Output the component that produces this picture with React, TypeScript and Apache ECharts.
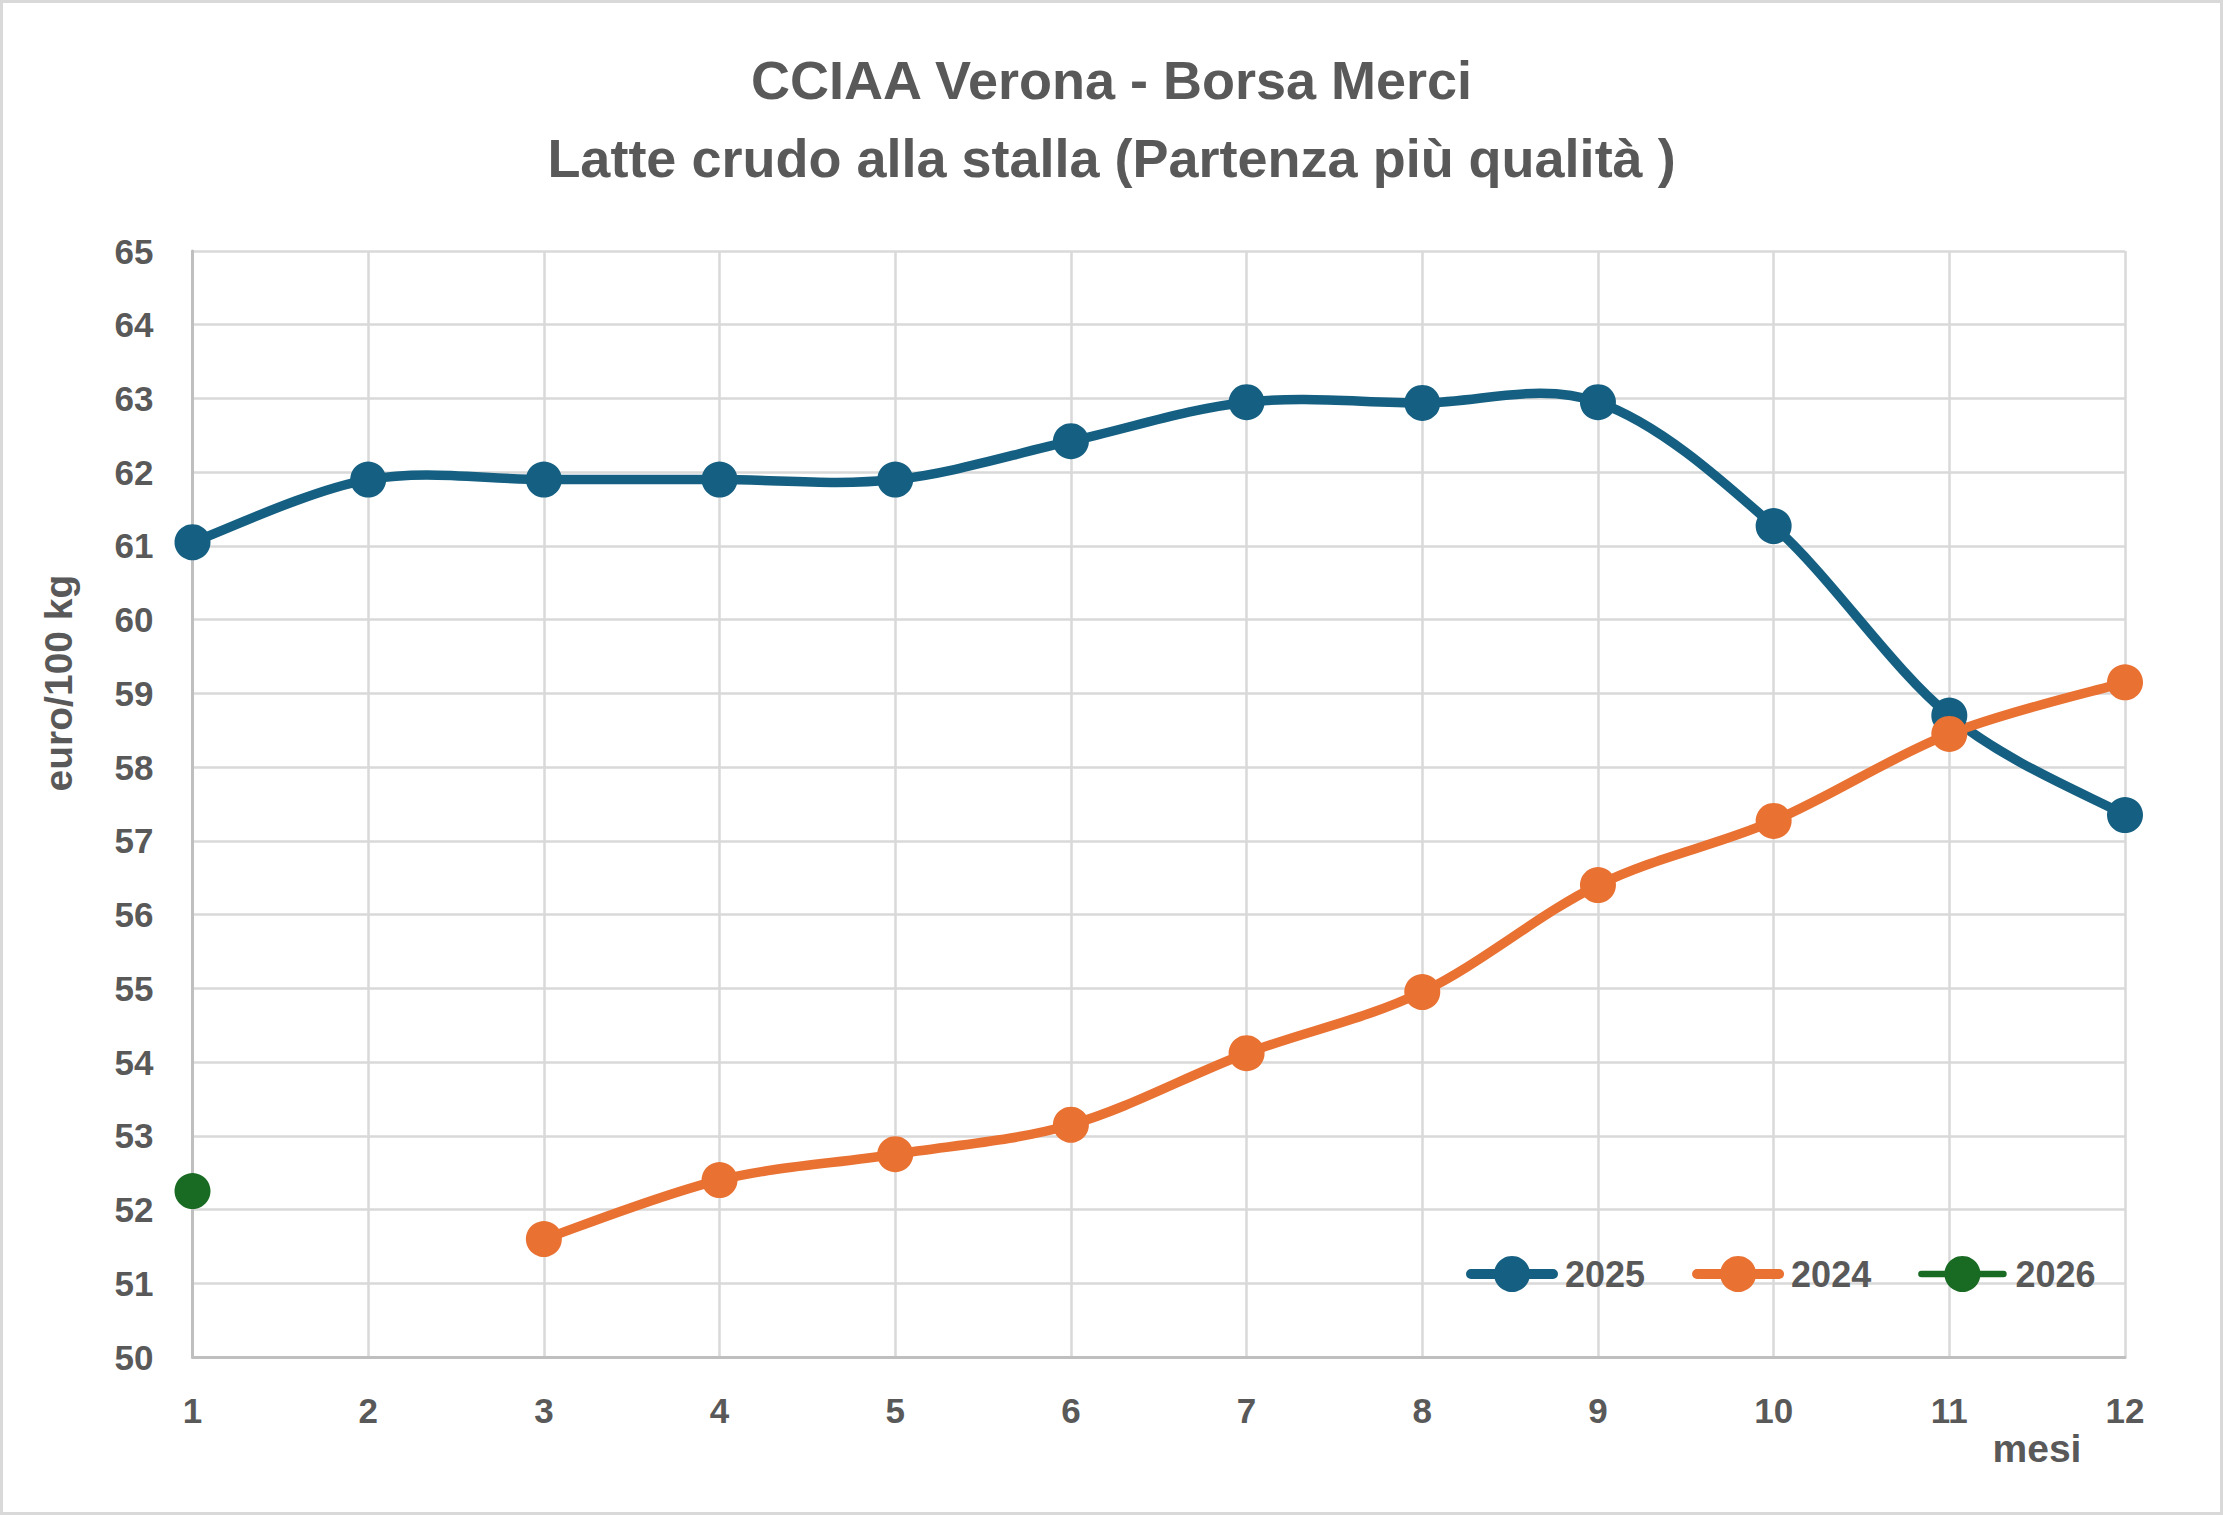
import React, { useEffect, useRef } from "react";
import * as echarts from "echarts";

const months = [1, 2, 3, 4, 5, 6, 7, 8, 9, 10, 11, 12];
const values2025 = [61.05, 61.9, 61.9, 61.9, 61.9, 62.42, 62.95, 62.94, 62.95, 61.27, 58.7, 57.35];
const values2024 = [null, null, 51.6, 52.4, 52.75, 53.15, 54.12, 54.95, 56.4, 57.27, 58.45, 59.15];
const values2026 = [52.25];
const seriesNames = ["2025", "2024", "2026"];
const seriesColors = ["#156082", "#E97132", "#196B24"];
const titleLines = ["CCIAA Verona - Borsa Merci", "Latte crudo alla stalla (Partenza più qualità )"];
const yAxisTitle = "euro/100 kg";
const xAxisTitle = "mesi";

const FONT = '"Liberation Sans", Arial, sans-serif';
const TEXT = "#595959";
const LINE_W = 9.5;

export default function App() {
  const ref = useRef<HTMLDivElement>(null);
  useEffect(() => {
    document.body.style.margin = "0";
    const chart = echarts.init(ref.current!, null, { renderer: "svg" });
    const pair = (vals: (number | null)[]) => vals.map((v, i) => [months[i], v == null ? "-" : v]);

    // Excel-like smoothed curve: one cubic Bezier segment per data interval
    const curveSeries = (vals: (number | null)[], color: string) => ({
      type: "custom",
      silent: true,
      data: vals.map((v, i) => [months[i], v == null ? 0 : v]),
      encode: { x: 0, y: 1 },
      renderItem: (params: any, api: any) => {
        const i = params.dataIndex;
        const n = vals.length;
        if (vals[i] == null || i + 1 >= n || vals[i + 1] == null) return null;
        const p = (k: number) => api.coord([months[k], vals[k] as number]);
        const prev = i - 1 >= 0 && vals[i - 1] != null ? i - 1 : i;
        const next = i + 2 < n && vals[i + 2] != null ? i + 2 : i + 1;
        const P0 = p(prev), P1 = p(i), P2 = p(i + 1), P3 = p(next);
        const t = 1 / 6;
        return {
          type: "bezierCurve",
          shape: {
            x1: P1[0], y1: P1[1],
            x2: P2[0], y2: P2[1],
            cpx1: P1[0] + (P2[0] - P0[0]) * t,
            cpy1: P1[1] + (P2[1] - P0[1]) * t,
            cpx2: P2[0] - (P3[0] - P1[0]) * t,
            cpy2: P2[1] - (P3[1] - P1[1]) * t,
          },
          style: { stroke: color, lineWidth: LINE_W, fill: "none", lineCap: "round" },
        };
      },
    });
    const markerSeries = (name: string, data: any[], color: string) => ({
      name,
      type: "line",
      data,
      connectNulls: false,
      symbol: "circle",
      symbolSize: 36,
      itemStyle: { color },
      lineStyle: { color, width: 0 },
      emphasis: { disabled: true },
    });
    chart.setOption({
      animation: false,
      backgroundColor: "#ffffff",
      title: {
        text: titleLines.join("\n"),
        left: "center",
        top: 36,
        textStyle: { fontFamily: FONT, fontSize: 54, fontWeight: "bold", color: TEXT, lineHeight: 78 },
      },
      grid: { left: 192.5, right: 98, top: 251, bottom: 158, containLabel: false },
      legend: {
        left: 1461,
        top: 1251,
        itemWidth: 82,
        itemHeight: 45,
        itemGap: 47,
        data: [
          { name: seriesNames[0], lineStyle: { width: 10, cap: "round" } },
          { name: seriesNames[1], lineStyle: { width: 10, cap: "round" } },
          { name: seriesNames[2], lineStyle: { width: 6.5, cap: "round" } },
        ],
        textStyle: { fontFamily: FONT, fontSize: 36, fontWeight: "bold", color: TEXT, padding: [0, 0, 0, 7] },
      },
      xAxis: {
        type: "value",
        min: 1,
        max: 12,
        interval: 1,
        axisLine: { show: true, lineStyle: { color: "#BFBFBF", width: 3 } },
        axisTick: { show: false },
        splitLine: { show: true, lineStyle: { color: "#D9D9D9", width: 2.5 } },
        axisLabel: { margin: 36, fontFamily: FONT, fontSize: 35, fontWeight: "bold", color: TEXT },
      },
      yAxis: {
        type: "value",
        min: 50,
        max: 65,
        interval: 1,
        axisLine: { show: true, lineStyle: { color: "#BFBFBF", width: 3 } },
        axisTick: { show: false },
        splitLine: { show: true, lineStyle: { color: "#D9D9D9", width: 2.5 } },
        axisLabel: { margin: 39, fontFamily: FONT, fontSize: 35, fontWeight: "bold", color: TEXT },
      },
      graphic: [
        {
          type: "rect",
          shape: { x: 1.5, y: 1.5, width: 2220, height: 1512 },
          style: { fill: "none", stroke: "#D9D9D9", lineWidth: 3 },
          silent: true,
        },
        {
          type: "text",
          x: 58,
          y: 683,
          rotation: Math.PI / 2,
          style: {
            text: yAxisTitle,
            fontFamily: FONT,
            fontSize: 39,
            fontWeight: "bold",
            fill: TEXT,
            align: "center",
            verticalAlign: "middle",
          },
        },
        {
          type: "text",
          x: 2037,
          y: 1448,
          style: {
            text: xAxisTitle,
            fontFamily: FONT,
            fontSize: 39,
            fontWeight: "bold",
            fill: TEXT,
            align: "center",
            verticalAlign: "middle",
          },
        },
      ],
      series: [
        curveSeries(values2025, seriesColors[0]),
        markerSeries(seriesNames[0], pair(values2025), seriesColors[0]),
        curveSeries(values2024, seriesColors[1]),
        markerSeries(seriesNames[1], pair(values2024), seriesColors[1]),
        markerSeries(seriesNames[2], values2026.map((v, i) => [months[i], v]), seriesColors[2]),
      ],
    });
    return () => chart.dispose();
  }, []);
  return <div ref={ref} style={{ width: 2223, height: 1515 }} />;
}
